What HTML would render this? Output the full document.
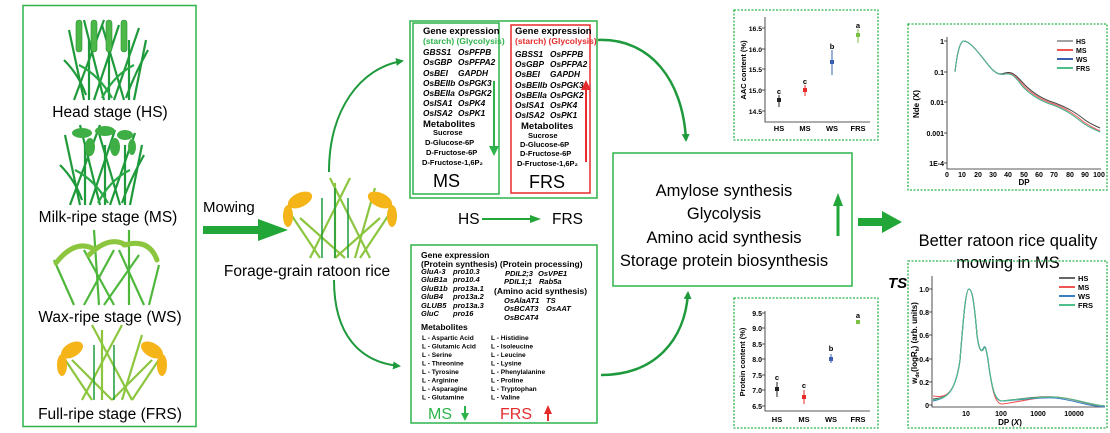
<!DOCTYPE html>
<html><head><meta charset="utf-8"><style>
html,body{margin:0;padding:0;background:#fff;}
svg{display:block;font-family:"Liberation Sans",Arial,sans-serif;}
.b{font-weight:bold}
.i{font-style:italic;font-weight:bold}
</style></head><body>
<svg width="1110" height="433" viewBox="0 0 1110 433" xmlns="http://www.w3.org/2000/svg">
<defs>
<marker id="ah" markerWidth="8" markerHeight="8" refX="6" refY="4" orient="auto" markerUnits="userSpaceOnUse"><path d="M0,0 L8,4 L0,8 z" fill="#1e9a3c"/></marker>
<g id="stems" stroke="#1f9a3a" stroke-width="2.2" fill="none">
<path d="M10,80 L40,0"/><path d="M20,80 L5,10"/><path d="M30,80 L55,5"/><path d="M40,80 L20,0"/><path d="M50,80 L75,8"/><path d="M60,80 L38,5"/><path d="M70,80 L82,20"/><path d="M25,80 L25,20"/><path d="M45,80 L45,20"/><path d="M65,80 L65,20"/>
<path d="M0,40 Q15,55 22,75"/><path d="M84,30 Q70,55 62,78"/><path d="M15,45 Q35,55 48,78" stroke="#2aa845"/><path d="M70,45 Q50,55 38,78" stroke="#2aa845"/>
</g>
</defs>
<rect width="1110" height="433" fill="#fff"/>
<!-- left box -->
<rect x="23" y="5.5" width="173" height="421" fill="none" stroke="#2db34a" stroke-width="1.5"/>
<!-- HS plant -->
<g transform="translate(64,20)"><use href="#stems"/>
<g fill="#4cb848" stroke="#2a8f33" stroke-width="0.6"><rect x="12" y="0" width="6" height="32" rx="3"/><rect x="27" y="0" width="6" height="32" rx="3"/><rect x="42" y="0" width="6" height="32" rx="3"/><rect x="57" y="0" width="6" height="32" rx="3"/></g></g>
<text x="110" y="117" font-size="15.5" text-anchor="middle">Head stage (HS)</text>
<!-- MS plant -->
<g transform="translate(60,125)"><use href="#stems"/>
<g fill="#3fae45"><ellipse cx="22" cy="8" rx="10" ry="5"/><ellipse cx="45" cy="6" rx="10" ry="5"/><ellipse cx="65" cy="10" rx="8" ry="5"/><ellipse cx="30" cy="22" rx="5" ry="9"/><ellipse cx="55" cy="22" rx="5" ry="9"/><ellipse cx="72" cy="22" rx="4" ry="8"/></g></g>
<text x="108" y="222" font-size="15.5" text-anchor="middle">Milk-ripe stage (MS)</text>
<!-- WS plant -->
<g transform="translate(54,230)"><g stroke="#4fb83c" stroke-width="2.2" fill="none"><path d="M45,75 L40,0"/><path d="M75,75 L75,0"/><path d="M30,75 L60,20"/><path d="M60,75 L30,20"/><path d="M90,75 L65,20"/><path d="M20,75 L0,30"/><path d="M95,75 L105,35"/><path d="M50,75 L85,25"/></g>
<g stroke="#8cc63f" stroke-width="5" fill="none" stroke-linecap="round"><path d="M2,33 Q20,10 38,18"/><path d="M35,25 Q55,5 72,15"/><path d="M70,15 Q95,8 103,30"/></g></g>
<text x="110" y="322" font-size="15.5" text-anchor="middle">Wax-ripe stage (WS)</text>
<!-- FRS plant -->
<g transform="translate(52,325)"><g stroke="#8cc63f" stroke-width="2.2" fill="none"><path d="M30,75 L70,0"/><path d="M80,75 L40,0"/><path d="M50,75 L50,5"/><path d="M70,75 L90,10"/><path d="M10,30 L40,75"/><path d="M110,30 L80,75"/><path d="M20,35 L60,75"/><path d="M100,35 L60,75"/></g>
<g stroke="#1f9a3a" stroke-width="1.5"><path d="M42,75 L42,20"/><path d="M62,75 L62,20"/></g>
<g fill="#f5b417"><ellipse cx="20" cy="25" rx="12" ry="7" transform="rotate(-30 20 25)"/><ellipse cx="10" cy="40" rx="5" ry="11"/><ellipse cx="100" cy="25" rx="12" ry="7" transform="rotate(30 100 25)"/><ellipse cx="110" cy="40" rx="5" ry="11"/></g></g>
<text x="110" y="419" font-size="15.5" text-anchor="middle">Full-ripe stage (FRS)</text>

<!-- Mowing -->
<text x="203" y="212" font-size="15">Mowing</text>
<path d="M203,226 L258,226 L258,219 L288,230 L258,241 L258,234 L203,234 z" fill="#22a637"/>
<!-- ratoon plant -->
<g transform="translate(280,178)"><g stroke="#8cc63f" stroke-width="2.2" fill="none"><path d="M30,80 L70,0"/><path d="M90,80 L50,0"/><path d="M55,80 L55,5"/><path d="M75,80 L95,10"/><path d="M10,35 L40,80"/><path d="M110,35 L80,80"/><path d="M20,40 L65,80"/><path d="M100,40 L55,80"/></g>
<g stroke="#1f9a3a" stroke-width="1.5"><path d="M42,80 L42,20"/><path d="M68,80 L68,20"/><path d="M55,80 L55,10"/></g>
<g fill="#f5b417"><ellipse cx="20" cy="22" rx="13" ry="7" transform="rotate(-25 20 22)"/><ellipse cx="8" cy="38" rx="5" ry="11"/><ellipse cx="100" cy="22" rx="13" ry="7" transform="rotate(25 100 22)"/><ellipse cx="112" cy="38" rx="5" ry="11"/></g></g>
<text x="307" y="276" font-size="15.5" text-anchor="middle">Forage-grain ratoon rice</text>
<!-- curved arrows -->
<path d="M329,172 C329,110 360,68 402,61" fill="none" stroke="#1e9a3c" stroke-width="2" marker-end="url(#ah)"/>
<path d="M334,280 C334,335 360,362 399,366" fill="none" stroke="#1e9a3c" stroke-width="2" marker-end="url(#ah)"/>
<path d="M598,40 C650,38 683,80 686,140" fill="none" stroke="#1e9a3c" stroke-width="2.5" marker-end="url(#ah)"/>
<path d="M601,375 C655,375 685,340 688,293" fill="none" stroke="#1e9a3c" stroke-width="2.5" marker-end="url(#ah)"/>

<!-- top box -->
<rect x="410" y="21" width="187" height="177" fill="none" stroke="#2db34a" stroke-width="1.5"/>
<rect x="413" y="23" width="86" height="171" fill="none" stroke="#2db34a" stroke-width="1.5"/>
<rect x="511" y="25" width="79" height="168" fill="none" stroke="#e52b2b" stroke-width="1.5"/>
<g font-size="9">
<text x="423" y="34" class="b" font-size="9.5">Gene expression</text>
<text x="423" y="44" class="b" fill="#2db34a" font-size="8.5">(starch) (Glycolysis)</text>
<g class="i" font-size="8.3"><text x="423" y="55">GBSS1</text><text x="458" y="55">OsPFPB</text>
<text x="423" y="65">OsGBP</text><text x="458" y="65">OsPFPA2</text>
<text x="423" y="76">OsBEI</text><text x="458" y="76">GAPDH</text>
<text x="423" y="86">OsBEIIb</text><text x="458" y="86">OsPGK3</text>
<text x="423" y="96">OsBEIIa</text><text x="458" y="96">OsPGK2</text>
<text x="423" y="106">OsISA1</text><text x="458" y="106">OsPK4</text>
<text x="423" y="116">OsISA2</text><text x="458" y="116">OsPK1</text></g>
<text x="423" y="127" class="b" font-size="9.5">Metabolites</text>
<g class="b" font-size="7.5"><text x="433" y="135">Sucrose</text><text x="425" y="145">D-Glucose-6P</text><text x="426" y="155">D-Fructose-6P</text><text x="422" y="165">D-Fructose-1,6P₂</text></g>
<text x="433" y="187" font-size="18">MS</text>
<text x="515" y="34" class="b" font-size="9.5">Gene expression</text>
<text x="515" y="44" class="b" fill="#e52b2b" font-size="8.5">(starch) (Glycolysis)</text>
<g class="i" font-size="8.3"><text x="515" y="57">GBSS1</text><text x="550" y="57">OsPFPB</text>
<text x="515" y="67">OsGBP</text><text x="550" y="67">OsPFPA2</text>
<text x="515" y="77">OsBEI</text><text x="550" y="77">GAPDH</text>
<text x="515" y="88">OsBEIIb</text><text x="550" y="88">OsPGK3</text>
<text x="515" y="98">OsBEIIa</text><text x="550" y="98">OsPGK2</text>
<text x="515" y="108">OsISA1</text><text x="550" y="108">OsPK4</text>
<text x="515" y="118">OsISA2</text><text x="550" y="118">OsPK1</text></g>
<text x="521" y="129" class="b" font-size="9.5">Metabolites</text>
<g class="b" font-size="7.5"><text x="528" y="138">Sucrose</text><text x="520" y="147">D-Glucose-6P</text><text x="520" y="156">D-Fructose-6P</text><text x="517" y="166">D-Fructose-1,6P₂</text></g>
<text x="529" y="188" font-size="18">FRS</text>
</g>
<path d="M494,81 L494,148" stroke="#2db34a" stroke-width="2"/><path d="M489,146 L494,156 L499,146 z" fill="#2db34a"/>
<path d="M586,162 L586,88" stroke="#e52b2b" stroke-width="2"/><path d="M581,90 L586,80 L591,90 z" fill="#e52b2b"/>

<!-- HS -> FRS -->
<text x="458" y="224" font-size="15.5">HS</text>
<path d="M482,219 L532,219" stroke="#22a637" stroke-width="2"/><path d="M530,215 L541,219 L530,223 z" fill="#22a637"/>
<text x="552" y="224" font-size="15.5">FRS</text>

<!-- bottom box -->
<rect x="411" y="245" width="186" height="178" fill="none" stroke="#2db34a" stroke-width="1.5"/>
<g class="b" font-size="8.5"><text x="421" y="258">Gene expression</text><text x="421" y="267">(Protein synthesis) (Protein processing)</text><text x="494" y="294">(Amino acid synthesis)</text><text x="421" y="330">Metabolites</text></g>
<g class="i" font-size="7.5">
<text x="421" y="274">GluA-3</text><text x="453" y="274">pro10.3</text>
<text x="421" y="282">GluB1a</text><text x="453" y="282">pro10.4</text>
<text x="421" y="291">GluB1b</text><text x="453" y="291">pro13a.1</text>
<text x="421" y="299">GluB4</text><text x="453" y="299">pro13a.2</text>
<text x="421" y="308">GLUB5</text><text x="453" y="308">pro13a.3</text>
<text x="421" y="316">GluC</text><text x="453" y="316">pro16</text>
<text x="505" y="276">PDIL2;3</text><text x="538" y="276">OsVPE1</text>
<text x="504" y="284">PDIL1;1</text><text x="539" y="284">Rab5a</text>
<text x="504" y="303">OsAlaAT1</text><text x="546" y="303">TS</text>
<text x="504" y="311">OsBCAT3</text><text x="546" y="311">OsAAT</text>
<text x="504" y="320">OsBCAT4</text></g>
<g class="b" font-size="6.6">
<text x="422" y="340">L - Aspartic Acid</text><text x="422" y="348.5">L - Glutamic Acid</text><text x="422" y="357">L - Serine</text><text x="422" y="365.5">L - Threonine</text><text x="422" y="374">L - Tyrosine</text><text x="422" y="382.5">L - Arginine</text><text x="422" y="391">L - Asparagine</text><text x="422" y="399.5">L - Glutamine</text>
<text x="491" y="340">L - Histidine</text><text x="491" y="348.5">L - Isoleucine</text><text x="491" y="357">L - Leucine</text><text x="491" y="365.5">L - Lysine</text><text x="491" y="374">L - Phenylalanine</text><text x="491" y="382.5">L - Proline</text><text x="491" y="391">L - Tryptophan</text><text x="491" y="399.5">L - Valine</text></g>
<text x="428" y="419" font-size="16" fill="#2db34a">MS</text>
<path d="M465,406 L465,415" stroke="#2db34a" stroke-width="2"/><path d="M461,413 L465,421 L469,413 z" fill="#2db34a"/>
<text x="500" y="419" font-size="16" fill="#e52b2b">FRS</text>
<path d="M548,421 L548,412" stroke="#e52b2b" stroke-width="2"/><path d="M544,414 L548,405 L552,414 z" fill="#e52b2b"/>

<!-- center box -->
<rect x="613" y="153" width="239" height="133" fill="none" stroke="#2db34a" stroke-width="1.5"/>
<g font-size="16.5" text-anchor="middle"><text x="724" y="196">Amylose synthesis</text><text x="724" y="219">Glycolysis</text><text x="724" y="243">Amino acid synthesis</text><text x="724" y="266">Storage protein biosynthesis</text></g>
<path d="M838,236 L838,205" stroke="#22a637" stroke-width="3"/><path d="M833,206 L838,193 L843,206 z" fill="#22a637"/>
<!-- big arrow -->
<path d="M858,218 L882,218 L882,211 L902,222 L882,233 L882,226 L858,226 z" fill="#22a637"/>
<g font-size="16.5" text-anchor="middle"><text x="1008" y="246">Better ratoon rice quality</text><text x="1008" y="268">mowing in MS</text></g>
<text x="888" y="288" font-size="15" class="i">TS</text>

<!-- AAC chart -->
<rect x="734" y="10" width="144" height="130" fill="none" stroke="#2db34a" stroke-width="1.3" stroke-dasharray="2,1.5"/>
<g stroke="#222" stroke-width="0.8" fill="none"><path d="M765,17 L765,122 L870,122"/>
<path d="M762,28 L765,28 M762,49 L765,49 M762,69 L765,69 M762,90 L765,90 M762,111 L765,111"/></g>
<g font-size="6.8" class="b" text-anchor="end"><text x="762" y="31">16.5</text><text x="762" y="52">16.0</text><text x="762" y="72">15.5</text><text x="762" y="93">15.0</text><text x="762" y="114">14.5</text></g>
<text transform="translate(746,70) rotate(-90)" font-size="7.5" class="b" text-anchor="middle">AAC content (%)</text>
<g font-size="7.5" class="b" text-anchor="middle"><text x="779" y="131">HS</text><text x="805" y="131">MS</text><text x="832" y="131">WS</text><text x="858" y="131">FRS</text>
<text x="779" y="94">c</text><text x="805" y="84">c</text><text x="832" y="49">b</text><text x="858" y="28">a</text></g>
<g stroke-width="1"><path d="M779,95 L779,107" stroke="#222"/><rect x="777" y="98" width="4" height="4" fill="#222"/>
<path d="M805,85 L805,96" stroke="#e52b2b"/><rect x="803" y="88" width="4" height="4" fill="#e52b2b"/>
<path d="M832,50 L832,75" stroke="#3a5fb0"/><rect x="830" y="60" width="4" height="4" fill="#3a5fb0"/>
<path d="M858,29 L858,43" stroke="#7cc242"/><rect x="856" y="33" width="4" height="4" fill="#7cc242"/></g>

<!-- Nde chart -->
<rect x="908" y="24" width="199" height="166" fill="none" stroke="#2db34a" stroke-width="1.3" stroke-dasharray="2,1.5"/>
<g stroke="#222" stroke-width="0.8" fill="none"><path d="M947,37 L947,169 L1101,169"/>
<path d="M944,41 L947,41 M944,72 L947,72 M944,102 L947,102 M944,133 L947,133 M944,163 L947,163"/></g>
<g font-size="7" class="b" text-anchor="end"><text x="944" y="44">1</text><text x="944" y="75">0.1</text><text x="944" y="105">0.01</text><text x="944" y="136">0.001</text><text x="944" y="166">1E-4</text></g>
<g font-size="7" class="b" text-anchor="middle"><text x="947" y="177">0</text><text x="962" y="177">10</text><text x="978" y="177">20</text><text x="993" y="177">30</text><text x="1008" y="177">40</text><text x="1024" y="177">50</text><text x="1039" y="177">60</text><text x="1054" y="177">70</text><text x="1070" y="177">80</text><text x="1085" y="177">90</text><text x="1099" y="177">100</text><text x="1024" y="185" font-size="8">DP</text></g>
<text transform="translate(919,104) rotate(-90)" font-size="8" class="b" text-anchor="middle">Nde (X)</text>
<g fill="none" stroke-width="1">
<path d="M955,72 C957,55 959,44 963,41 C970,40 980,55 990,67 C996,74 1000,75 1005,73 C1012,71 1015,74 1025,85 C1035,95 1045,100 1055,103 C1068,108 1075,112 1085,120 C1092,125 1096,126 1100,128" stroke="#444"/>
<path d="M955,72 C957,55 959,44 963,41 C970,40 980,55 990,67 C996,74 1000,75 1005,74 C1012,72 1015,75 1024,86 C1034,96 1044,101 1054,104 C1067,109 1074,114 1084,122 C1091,127 1096,129 1100,131" stroke="#e55"/>
<path d="M955,72 C957,55 959,44 963,41 C970,40 980,55 990,67 C996,74 1000,75 1005,74 C1012,73 1015,76 1023,87 C1033,97 1043,102 1053,105 C1066,110 1073,115 1083,123 C1090,128 1096,130 1100,132" stroke="#3a5fb0"/>
<path d="M955,72 C957,55 959,44 963,41 C970,40 980,55 990,67 C996,74 1000,75 1005,74 C1012,73 1015,76 1023,87 C1033,97 1043,102 1053,105 C1066,110 1073,115 1083,123 C1090,128 1096,130 1100,132" stroke="#4cbf8a"/></g>
<g font-size="7" class="b"><path d="M1057,41 L1073,41" stroke="#444"/><text x="1076" y="44">HS</text>
<path d="M1057,50 L1073,50" stroke="#e55" stroke-width="2"/><text x="1076" y="53">MS</text>
<path d="M1057,59 L1073,59" stroke="#3a5fb0" stroke-width="2"/><text x="1076" y="62">WS</text>
<path d="M1057,68 L1073,68" stroke="#4cbf8a" stroke-width="2"/><text x="1076" y="71">FRS</text></g>

<!-- Protein chart -->
<rect x="734" y="298" width="144" height="130" fill="none" stroke="#2db34a" stroke-width="1.3" stroke-dasharray="2,1.5"/>
<g stroke="#222" stroke-width="0.8" fill="none"><path d="M765,311 L765,411 L870,411"/>
<path d="M762,313 L765,313 M762,328 L765,328 M762,344 L765,344 M762,359 L765,359 M762,375 L765,375 M762,390 L765,390 M762,406 L765,406"/></g>
<g font-size="7" class="b" text-anchor="end"><text x="762" y="316">9.5</text><text x="762" y="331">9.0</text><text x="762" y="347">8.5</text><text x="762" y="362">8.0</text><text x="762" y="378">7.5</text><text x="762" y="393">7.0</text><text x="762" y="409">6.5</text></g>
<text transform="translate(745,362) rotate(-90)" font-size="7.5" class="b" text-anchor="middle">Protein content (%)</text>
<g font-size="7.5" class="b" text-anchor="middle"><text x="777" y="422">HS</text><text x="804" y="422">MS</text><text x="831" y="422">WS</text><text x="858" y="422">FRS</text>
<text x="777" y="380">c</text><text x="804" y="388">c</text><text x="831" y="351">b</text><text x="858" y="318">a</text></g>
<g stroke-width="1"><path d="M777,382 L777,397" stroke="#222"/><rect x="775" y="387" width="4" height="4" fill="#222"/>
<path d="M804,390 L804,404" stroke="#e52b2b"/><rect x="802" y="395" width="4" height="4" fill="#e52b2b"/>
<path d="M831,354 L831,363" stroke="#3a5fb0"/><rect x="829" y="357" width="4" height="4" fill="#3a5fb0"/>
<rect x="856" y="320" width="4" height="4" fill="#7cc242"/></g>

<!-- MW chart -->
<rect x="908" y="261" width="199" height="167" fill="none" stroke="#2db34a" stroke-width="1.3" stroke-dasharray="2,1.5"/>
<g stroke="#222" stroke-width="0.8" fill="none"><path d="M932,276 L932,407 L1105,407"/>
<path d="M929,289 L932,289 M929,312 L932,312 M929,335 L932,335 M929,359 L932,359 M929,382 L932,382 M929,405 L932,405"/></g>
<g font-size="7" class="b" text-anchor="end"><text x="929" y="292">1.0</text><text x="929" y="315">0.8</text><text x="929" y="338">0.6</text><text x="929" y="362">0.4</text><text x="929" y="385">0.2</text><text x="929" y="408">0</text></g>
<g font-size="7" class="b" text-anchor="middle"><text x="966" y="416">10</text><text x="1001" y="416">100</text><text x="1038" y="416">1000</text><text x="1074" y="416">10000</text><text x="1010" y="425" font-size="8">DP (<tspan font-style="italic">X</tspan>)</text></g>
<text transform="translate(917,343) rotate(-90)" font-size="8" class="b" text-anchor="middle">w<tspan font-size="5" dy="2">de</tspan><tspan dy="-2">(logR</tspan><tspan font-size="5" dy="2">h</tspan><tspan dy="-2">) (arb. units)</tspan></text>
<g fill="none" stroke-width="1.1">
<path d="M933,399 C945,398 955,396 960,360 C964,310 966,289 969,289 C972,289 974,300 977,335 C979,350 981,352 983,350 C985,345 986,347 988,360 C992,390 995,401 1002,401 C1020,399 1040,396 1055,397 C1075,398 1085,405 1105,406" stroke="#555"/>
<path d="M933,396 C945,398 955,396 960,360 C964,310 966,289 969,289 C972,289 974,300 977,335 C979,350 981,352 983,350 C985,345 986,347 988,360 C992,390 995,404 1002,404 C1020,402 1040,396 1055,397 C1075,398 1085,404 1105,406" stroke="#e55"/>
<path d="M933,401 C945,398 955,396 960,360 C964,310 966,289 969,289 C972,289 974,300 977,335 C979,350 981,352 983,349 C985,344 986,347 988,360 C992,390 995,401 1002,401 C1020,400 1040,397 1055,398 C1075,400 1085,406 1105,407" stroke="#3a7fc0"/>
<path d="M933,400 C945,398 955,396 960,360 C964,310 966,289 969,289 C972,289 974,300 977,335 C979,350 981,352 983,350 C985,345 986,347 988,360 C992,390 995,400 1002,401 C1020,399 1040,397 1055,397 C1075,398 1085,404 1105,406" stroke="#4cbf8a"/></g>
<g font-size="7.5" class="b"><path d="M1059,278 L1075,278" stroke="#666" stroke-width="2"/><text x="1078" y="281">HS</text>
<path d="M1059,287 L1075,287" stroke="#e55" stroke-width="2"/><text x="1078" y="290">MS</text>
<path d="M1059,296 L1075,296" stroke="#3a7fc0" stroke-width="2"/><text x="1078" y="299">WS</text>
<path d="M1059,305 L1075,305" stroke="#4cbf8a" stroke-width="2"/><text x="1078" y="308">FRS</text></g>
</svg>
</body></html>
